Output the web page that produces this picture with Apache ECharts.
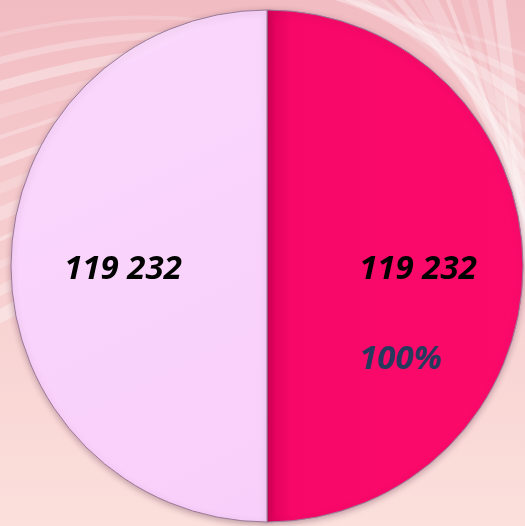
<!DOCTYPE html>
<html>
<head>
<meta charset="utf-8">
<script src="https://cdn.jsdelivr.net/npm/echarts@6/dist/echarts.min.js"></script>
<style>
  html, body { margin: 0; padding: 0; }
  #chart { width: 525px; height: 526px; }
</style>
</head>
<body>
<div id="chart"></div>
<script>
// data
var categories = ['B', 'A'];
var values = [119232, 119232];
var extraLabels = ['100%', ''];

var chartDom = document.getElementById('chart');
var myChart = echarts.init(chartDom);

function fmt(v) {
  return String(v).replace(/\B(?=(\d{3})+(?!\d))/g, ' ');
}

// gradient per slice for the glossy look
var fills = [
  new echarts.graphic.LinearGradient(0, 0, 1, 0, [
    { offset: 0, color: '#dc0058' },
    { offset: 0.1, color: '#f70868' },
    { offset: 1, color: '#fc0a6a' }
  ]),
  new echarts.graphic.LinearGradient(0, 0, 1, 1, [
    { offset: 0, color: '#ffffff' },
    { offset: 0.18, color: '#fad6fc' },
    { offset: 1, color: '#f8cffa' }
  ])
];

var seriesData = categories.map(function (c, i) {
  var item = {
    name: c,
    value: values[i],
    itemStyle: { color: fills[i] }
  };
  if (extraLabels[i]) {
    item.label = {
      formatter: '{v|' + fmt(values[i]) + '}\n{p|' + extraLabels[i] + '}',
      offset: [20, 76]
    };
  } else {
    item.label = {
      formatter: '{v|' + fmt(values[i]) + '}',
      offset: [-13, 4]
    };
  }
  return item;
});

// soft white streaks in the background
var streaks = [];
var i;
for (i = 0; i < 12; i++) {
  streaks.push({
    type: 'bezierCurve',
    z: -10,
    shape: {
      x1: -20, y1: 40 + i * 26,
      cpx1: 90, cpy1: 10 + i * 24,
      x2: 200, y2: 20 + i * 14
    },
    style: {
      stroke: 'rgba(255,255,255,' + (0.18 + (i % 3) * 0.08) + ')',
      lineWidth: 4 + (i % 4) * 3,
      fill: null
    }
  });
}
for (i = 0; i < 12; i++) {
  streaks.push({
    type: 'bezierCurve',
    z: -10,
    shape: {
      x1: 300 + i * 18, y1: -10,
      cpx1: 430 + i * 8, cpy1: 20 + i * 12,
      x2: 540, y2: 60 + i * 26
    },
    style: {
      stroke: 'rgba(255,255,255,' + (0.16 + (i % 3) * 0.08) + ')',
      lineWidth: 4 + (i % 4) * 3,
      fill: null
    }
  });
}

var option = {
  backgroundColor: new echarts.graphic.LinearGradient(0, 0, 0, 1, [
    { offset: 0, color: '#f1bcc2' },
    { offset: 0.5, color: '#f7cfd0' },
    { offset: 1, color: '#fbe0dc' }
  ]),
  animation: false,
  graphic: streaks,
  series: [
    {
      type: 'pie',
      center: [267, 266],
      radius: [0, 256],
      startAngle: 90,
      clockwise: true,
      itemStyle: {
        borderColor: '#9a7a98',
        borderWidth: 1,
        shadowColor: 'rgba(90, 40, 70, 0.35)',
        shadowBlur: 6,
        shadowOffsetY: 2
      },
      label: {
        show: true,
        position: 'inside',
        rich: {
          v: {
            fontFamily: 'Open Sans',
            fontStyle: 'italic',
            fontWeight: 'bold',
            fontSize: 33,
            color: '#000000',
            lineHeight: 36,
            align: 'left'
          },
          p: {
            fontFamily: 'Open Sans',
            fontStyle: 'italic',
            fontWeight: 'bold',
            fontSize: 33,
            color: '#263a5e',
            lineHeight: 144,
            align: 'left'
          }
        }
      },
      labelLine: { show: false },
      emphasis: { disabled: true },
      data: seriesData
    }
  ]
};

option && myChart.setOption(option);
</script>
</body>
</html>
